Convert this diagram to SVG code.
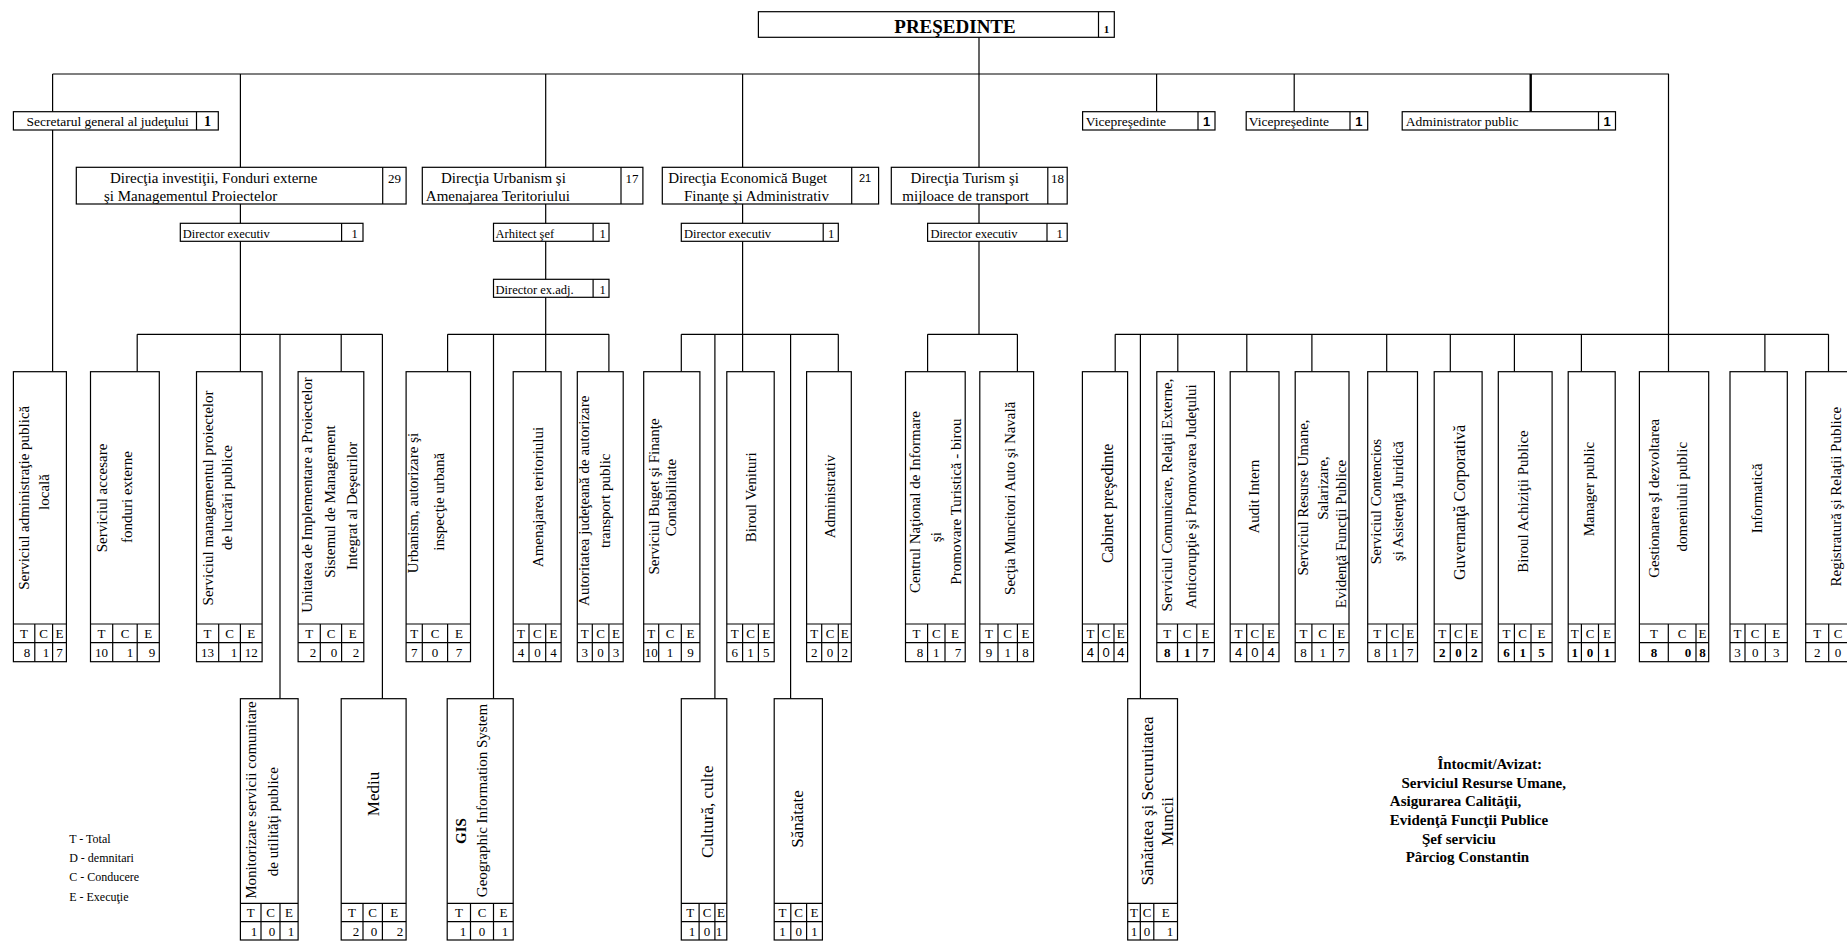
<svg xmlns="http://www.w3.org/2000/svg" width="1847" height="941" viewBox="0 0 1847 941" xml:space="preserve">
<style>
.bx{fill:#fff;stroke:#000;stroke-width:1.2}
.ln{stroke:#000;stroke-width:1.2;fill:none}
text{font-family:"Liberation Serif","Times New Roman",serif;fill:#000}
.v{font-size:15px;text-anchor:middle;dominant-baseline:central}
.v16{font-size:16px}
.v17{font-size:17px}
.h{font-size:13px;text-anchor:middle}
.n{font-size:13px;text-anchor:middle}
.bd{font-weight:bold}
.sans{font-family:"Liberation Sans",Arial,sans-serif}
.tt{font-size:15px}
.sm{font-size:12.5px}
.lg{font-size:12px}
.sig{font-size:15px;font-weight:bold}
</style>
<rect width="1847" height="941" fill="#fff"/>
<g id="connectors">
<path class="ln" d="M979 37.3V334.3M52.6 74H1668.9M52.6 74V371.7M240.4 74V371.7M545.7 74V371.7M742.6 74V371.7M1156.6 74V111.7M1294.2 74V111.7M1668.5 74V371.7"/>
<path d="M1530.7 74V111.7" stroke="#000" stroke-width="2.4"/>
<path class="ln" d="M137.2 334.3H382.4M137.2 334.3V371.7M280 334.3V698.7M341.2 334.3V371.7M382.4 334.3V698.7"/>
<path class="ln" d="M447.6 334.3H608.9M447.6 334.3V371.7M493.5 334.3V698.7M608.9 334.3V371.7"/>
<path class="ln" d="M681.3 334.3H838.3M681.3 334.3V371.7M714.9 334.3V698.7M790.6 334.3V698.7M838.3 334.3V371.7"/>
<path class="ln" d="M927.6 334.3H1017.4M927.6 334.3V371.7M1017.4 334.3V371.7"/>
<path class="ln" d="M1115.2 334.3H1828.5M1115.2 334.3V371.7M1140.4 334.3V698.7M1177.8 334.3V371.7M1246.8 334.3V371.7M1311.9 334.3V371.7M1386.7 334.3V371.7M1450.3 334.3V371.7M1514.4 334.3V371.7M1581.4 334.3V371.7M1764.9 334.3V371.7M1828.5 334.3V371.7"/>
</g>
<g id="presedinte">
<rect class="bx" x="758.4" y="11.7" width="355.9" height="25.6"/>
<path class="ln" d="M1098.5 11.7V37.3"/>
<text x="955" y="33" font-size="19" font-weight="bold" text-anchor="middle">PREŞEDINTE</text>
<text x="1106.4" y="33" font-size="11" font-weight="bold" text-anchor="middle">1</text>
</g>
<g id="secretar">
<rect class="bx" x="13.4" y="111.7" width="204.9" height="18.3"/>
<path class="ln" d="M196.5 111.7V130"/>
<text x="26.5" y="125.5" font-size="13.5">Secretarul general al judeţului</text>
<text x="207.4" y="125.5" font-size="14" font-weight="bold" text-anchor="middle">1</text>
</g>
<g id="vice1">
<rect class="bx" x="1082.6" y="111.7" width="132.4" height="18.3"/>
<path class="ln" d="M1198 111.7V130"/>
<text x="1085.8" y="125.5" font-size="13.5">Vicepreşedinte</text>
<text class="sans" x="1206.5" y="125.5" font-size="13" font-weight="bold" text-anchor="middle">1</text>
</g>
<g id="vice2">
<rect class="bx" x="1246.2" y="111.7" width="121.5" height="18.3"/>
<path class="ln" d="M1350 111.7V130"/>
<text x="1248.8" y="125.5" font-size="13.5">Vicepreşedinte</text>
<text class="sans" x="1358.9" y="125.5" font-size="13" font-weight="bold" text-anchor="middle">1</text>
</g>
<g id="admin">
<rect class="bx" x="1402.2" y="111.7" width="213.3" height="18.3"/>
<path class="ln" d="M1598.5 111.7V130"/>
<text x="1405.7" y="125.5" font-size="13.5">Administrator public</text>
<text class="sans" x="1607" y="125.5" font-size="13" font-weight="bold" text-anchor="middle">1</text>
</g>
<g id="dir-investitii">
<rect class="bx" x="76.3" y="167.3" width="329.8" height="36.7"/>
<path class="ln" d="M382.7 167.3V204"/>
<text class="tt" x="110" y="182.5">Direcţia investiţii, Fonduri externe</text>
<text class="tt" x="104" y="200.5">şi  Managementul Proiectelor</text>
<text x="394.4" y="182.5" font-size="13" text-anchor="middle">29</text>
</g>
<g id="dir-urbanism">
<rect class="bx" x="422.3" y="167.3" width="220.6" height="36.7"/>
<path class="ln" d="M621 167.3V204"/>
<text class="tt" x="440.9" y="182.5">Direcţia Urbanism şi</text>
<text class="tt" x="425.8" y="200.5">Amenajarea Teritoriului</text>
<text x="632" y="182.5" font-size="13" text-anchor="middle">17</text>
</g>
<g id="dir-economica">
<rect class="bx" x="662.3" y="167.3" width="216.3" height="36.7"/>
<path class="ln" d="M851.7 167.3V204"/>
<text class="tt" x="668.2" y="182.5">Direcţia Economică  Buget</text>
<text class="tt" x="684" y="200.5">Finanţe şi  Administrativ</text>
<text class="sans" x="865.1" y="182" font-size="11" text-anchor="middle">21</text>
</g>
<g id="dir-turism">
<rect class="bx" x="891.3" y="167.3" width="175.9" height="36.7"/>
<path class="ln" d="M1047.8 167.3V204"/>
<text class="tt" x="910.6" y="182.5">Direcţia Turism şi</text>
<text class="tt" x="902.3" y="200.5">mijloace de  transport</text>
<text x="1057.5" y="182.5" font-size="13" text-anchor="middle">18</text>
</g>
<g id="dirx-investitii">
<rect class="bx" x="180.3" y="223.3" width="182.7" height="18"/>
<path class="ln" d="M341.6 223.3V241.3"/>
<text class="sm" x="182.7" y="237.5">Director executiv</text>
<text class="sm" x="354.5" y="237.5" text-anchor="middle">1</text>
</g>
<g id="arhitect">
<rect class="bx" x="493.5" y="223.3" width="115.5" height="18"/>
<path class="ln" d="M593.1 223.3V241.3"/>
<text class="sm" x="495.5" y="237.5">Arhitect şef</text>
<text class="sm" x="602.5" y="237.5" text-anchor="middle">1</text>
</g>
<g id="director-adj">
<rect class="bx" x="493.5" y="279.3" width="115.5" height="18"/>
<path class="ln" d="M593.1 279.3V297.3"/>
<text class="sm" x="495.5" y="293.5">Director ex.adj.</text>
<text class="sm" x="602.5" y="293.5" text-anchor="middle">1</text>
</g>
<g id="dirx-economica">
<rect class="bx" x="681.3" y="223.3" width="157" height="18"/>
<path class="ln" d="M823.2 223.3V241.3"/>
<text class="sm" x="684" y="237.5">Director executiv</text>
<text class="sm" x="831" y="237.5" text-anchor="middle">1</text>
</g>
<g id="dirx-turism">
<rect class="bx" x="927.6" y="223.3" width="139.6" height="18"/>
<path class="ln" d="M1047 223.3V241.3"/>
<text class="sm" x="930.4" y="237.5">Director executiv</text>
<text class="sm" x="1059.5" y="237.5" text-anchor="middle">1</text>
</g>
<g id="s1">
<rect class="bx" x="13.4" y="371.7" width="53" height="290"/>
<path class="ln" d="M13.4 624H66.4M13.4 642.7H66.4M34.8 624V661.7M52.6 624V661.7"/>
<text class="v" transform="translate(24 497.8) rotate(-90)">Serviciul administraţie publică</text>
<text class="v" transform="translate(43.5 492) rotate(-90)">locală</text>
<text class="h" x="24.1" y="638">T</text><text class="h" x="43.7" y="638">C</text><text class="h" x="59.5" y="638">E</text>
<text class="n" x="27" y="657">8</text><text class="n" x="46" y="657">1</text><text class="n" x="59.5" y="657">7</text>
</g>
<g id="s2">
<rect class="bx" x="90.5" y="371.7" width="68.8" height="290"/>
<path class="ln" d="M90.5 624H159.3M90.5 642.7H159.3M112.7 624V661.7M137.2 624V661.7"/>
<text class="v" transform="translate(102 498) rotate(-90)">Serviciul accesare</text>
<text class="v" transform="translate(127.3 497) rotate(-90)">fonduri externe</text>
<text class="h" x="101.6" y="638">T</text><text class="h" x="125" y="638">C</text><text class="h" x="148.3" y="638">E</text>
<text class="n" x="101.6" y="657">10</text><text class="n" x="130" y="657">1</text><text class="n" x="152" y="657">9</text>
</g>
<g id="s3">
<rect class="bx" x="196.5" y="371.7" width="65.6" height="290"/>
<path class="ln" d="M196.5 624H262.1M196.5 642.7H262.1M218.7 624V661.7M240.4 624V661.7"/>
<text class="v" transform="translate(207.6 498) rotate(-90)">Serviciul managementul proiectelor</text>
<text class="v" transform="translate(227.4 497.5) rotate(-90)">de lucrări publice</text>
<text class="h" x="207.6" y="638">T</text><text class="h" x="229.6" y="638">C</text><text class="h" x="251.3" y="638">E</text>
<text class="n" x="207.6" y="657">13</text><text class="n" x="234" y="657">1</text><text class="n" x="251.3" y="657">12</text>
</g>
<g id="s4">
<rect class="bx" x="298.1" y="371.7" width="65.7" height="290"/>
<path class="ln" d="M298.1 624H363.8M298.1 642.7H363.8M320.3 624V661.7M341.6 624V661.7"/>
<text class="v" transform="translate(307.2 495) rotate(-90)">Unitatea de Implementare a Proiectelor</text>
<text class="v" transform="translate(330.2 501.5) rotate(-90)">Sistemul de Management</text>
<text class="v" transform="translate(351.9 505.8) rotate(-90)">Integrat al Deşeurilor</text>
<text class="h" x="309.2" y="638">T</text><text class="h" x="331" y="638">C</text><text class="h" x="352.7" y="638">E</text>
<text class="n" x="313" y="657">2</text><text class="n" x="334" y="657">0</text><text class="n" x="356" y="657">2</text>
</g>
<g id="s5">
<rect class="bx" x="406.1" y="371.7" width="64.4" height="290"/>
<path class="ln" d="M406.1 624H470.5M406.1 642.7H470.5M422.3 624V661.7M447.6 624V661.7"/>
<text class="v" transform="translate(413.2 503) rotate(-90)">Urbanism, autorizare şi</text>
<text class="v" transform="translate(438.9 501.7) rotate(-90)">inspecţie urbană</text>
<text class="h" x="414.2" y="638">T</text><text class="h" x="435" y="638">C</text><text class="h" x="459.1" y="638">E</text>
<text class="n" x="414.2" y="657">7</text><text class="n" x="435" y="657">0</text><text class="n" x="459.1" y="657">7</text>
</g>
<g id="s6">
<rect class="bx" x="513.2" y="371.7" width="47.9" height="290"/>
<path class="ln" d="M513.2 624H561.1M513.2 642.7H561.1M529 624V661.7M545.7 624V661.7"/>
<text class="v" transform="translate(537.7 497) rotate(-90)">Amenajarea teritoriului</text>
<text class="h" x="521.1" y="638">T</text><text class="h" x="537.4" y="638">C</text><text class="h" x="553.4" y="638">E</text>
<text class="n" x="521.1" y="657">4</text><text class="n" x="537.4" y="657">0</text><text class="n" x="553.4" y="657">4</text>
</g>
<g id="s7">
<rect class="bx" x="577.3" y="371.7" width="45.9" height="290"/>
<path class="ln" d="M577.3 624H623.2M577.3 642.7H623.2M592.3 624V661.7M608.9 624V661.7"/>
<text class="v" transform="translate(584.4 500.8) rotate(-90)">Autoritatea judeţeană de autorizare</text>
<text class="v" transform="translate(605 500.8) rotate(-90)">transport public</text>
<text class="h" x="584.8" y="638">T</text><text class="h" x="600.6" y="638">C</text><text class="h" x="616.1" y="638">E</text>
<text class="n" x="584.8" y="657">3</text><text class="n" x="600.6" y="657">0</text><text class="n" x="616.1" y="657">3</text>
</g>
<g id="s8">
<rect class="bx" x="643.7" y="371.7" width="56.2" height="290"/>
<path class="ln" d="M643.7 624H699.9M643.7 642.7H699.9M658.7 624V661.7M681.3 624V661.7"/>
<text class="v" transform="translate(653.6 496.5) rotate(-90)">Serviciul Buget şi Finanţe</text>
<text class="v" transform="translate(671.4 497.5) rotate(-90)">Contabilitate</text>
<text class="h" x="651.2" y="638">T</text><text class="h" x="670" y="638">C</text><text class="h" x="690.6" y="638">E</text>
<text class="n" x="651.2" y="657">10</text><text class="n" x="670" y="657">1</text><text class="n" x="690.6" y="657">9</text>
</g>
<g id="s9">
<rect class="bx" x="726.8" y="371.7" width="47.4" height="290"/>
<path class="ln" d="M726.8 624H774.2M726.8 642.7H774.2M742.6 624V661.7M758.4 624V661.7"/>
<text class="v" transform="translate(750.5 497.3) rotate(-90)">Biroul  Venituri</text>
<text class="h" x="734.7" y="638">T</text><text class="h" x="750.5" y="638">C</text><text class="h" x="766.3" y="638">E</text>
<text class="n" x="734.7" y="657">6</text><text class="n" x="750.5" y="657">1</text><text class="n" x="766.3" y="657">5</text>
</g>
<g id="s10">
<rect class="bx" x="806.6" y="371.7" width="44.7" height="290"/>
<path class="ln" d="M806.6 624H851.3M806.6 642.7H851.3M821.7 624V661.7M838.3 624V661.7"/>
<text class="v" transform="translate(829.6 496.5) rotate(-90)">Administrativ</text>
<text class="h" x="814.2" y="638">T</text><text class="h" x="830" y="638">C</text><text class="h" x="844.8" y="638">E</text>
<text class="n" x="814.2" y="657">2</text><text class="n" x="830" y="657">0</text><text class="n" x="844.8" y="657">2</text>
</g>
<g id="s11">
<rect class="bx" x="905.5" y="371.7" width="59.7" height="290"/>
<path class="ln" d="M905.5 624H965.2M905.5 642.7H965.2M927.6 624V661.7M945 624V661.7"/>
<text class="v" transform="translate(914.6 502) rotate(-90)">Centrul Naţional de Informare</text>
<text class="v" transform="translate(936.3 537) rotate(-90)">şi</text>
<text class="v" transform="translate(956.1 501.5) rotate(-90)">Promovare Turistică - birou</text>
<text class="h" x="916.6" y="638">T</text><text class="h" x="936.3" y="638">C</text><text class="h" x="955.1" y="638">E</text>
<text class="n" x="920" y="657">8</text><text class="n" x="936.3" y="657">1</text><text class="n" x="958" y="657">7</text>
</g>
<g id="s12">
<rect class="bx" x="979.8" y="371.7" width="53.8" height="290"/>
<path class="ln" d="M979.8 624H1033.6M979.8 642.7H1033.6M998 624V661.7M1017.4 624V661.7"/>
<text class="v" transform="translate(1009.5 498.3) rotate(-90)">Secţia Muncitori Auto şi Navală</text>
<text class="h" x="988.9" y="638">T</text><text class="h" x="1007.7" y="638">C</text><text class="h" x="1025.5" y="638">E</text>
<text class="n" x="988.9" y="657">9</text><text class="n" x="1007.7" y="657">1</text><text class="n" x="1025.5" y="657">8</text>
</g>
<g id="s13">
<rect class="bx" x="1082.4" y="371.7" width="45.2" height="290"/>
<path class="ln" d="M1082.4 624H1127.6M1082.4 642.7H1127.6M1098.3 624V661.7M1114 624V661.7"/>
<text class="v v16" transform="translate(1107 503.3) rotate(-90)">Cabinet preşedinte</text>
<text class="h" x="1090.4" y="638">T</text><text class="h" x="1106.2" y="638">C</text><text class="h" x="1120.8" y="638">E</text>
<text class="n sans" x="1090.4" y="657">4</text><text class="n sans" x="1106.2" y="657">0</text><text class="n sans" x="1120.8" y="657">4</text>
</g>
<g id="s14">
<rect class="bx" x="1156.8" y="371.7" width="57.6" height="290"/>
<path class="ln" d="M1156.8 624H1214.4M1156.8 642.7H1214.4M1177.5 624V661.7M1196.8 624V661.7"/>
<text class="v" transform="translate(1167.4 495) rotate(-90)">Serviciul Comunicare, Relaţii  Externe,</text>
<text class="v" transform="translate(1190.5 496.5) rotate(-90)">Anticorupţie şi Promovarea Judeţului</text>
<text class="h" x="1167.2" y="638">T</text><text class="h" x="1187.2" y="638">C</text><text class="h" x="1205.6" y="638">E</text>
<text class="n bd" x="1167.2" y="657">8</text><text class="n bd" x="1187.2" y="657">1</text><text class="n bd" x="1205.6" y="657">7</text>
</g>
<g id="s15">
<rect class="bx" x="1230.2" y="371.7" width="48.8" height="290"/>
<path class="ln" d="M1230.2 624H1279M1230.2 642.7H1279M1246.7 624V661.7M1263 624V661.7"/>
<text class="v" transform="translate(1253.7 496.7) rotate(-90)">Audit Intern</text>
<text class="h" x="1238.5" y="638">T</text><text class="h" x="1254.9" y="638">C</text><text class="h" x="1271" y="638">E</text>
<text class="n sans" x="1238.5" y="657">4</text><text class="n sans" x="1254.9" y="657">0</text><text class="n sans" x="1271" y="657">4</text>
</g>
<g id="s16">
<rect class="bx" x="1295.2" y="371.7" width="53.8" height="290"/>
<path class="ln" d="M1295.2 624H1349M1295.2 642.7H1349M1311.9 624V661.7M1333.4 624V661.7"/>
<text class="v" transform="translate(1303 497.5) rotate(-90)">Serviciul Resurse Umane,</text>
<text class="v" transform="translate(1323 488) rotate(-90)">Salarizare,</text>
<text class="v" transform="translate(1340.5 534) rotate(-90)">Evidenţă  Funcţii Publice</text>
<text class="h" x="1303.6" y="638">T</text><text class="h" x="1322.7" y="638">C</text><text class="h" x="1341.2" y="638">E</text>
<text class="n" x="1303.6" y="657">8</text><text class="n" x="1322.7" y="657">1</text><text class="n" x="1341.2" y="657">7</text>
</g>
<g id="s17">
<rect class="bx" x="1367.7" y="371.7" width="49.8" height="290"/>
<path class="ln" d="M1367.7 624H1417.5M1367.7 642.7H1417.5M1386.7 624V661.7M1402.9 624V661.7"/>
<text class="v" transform="translate(1376 501.5) rotate(-90)">Serviciul Contencios</text>
<text class="v" transform="translate(1398 501) rotate(-90)">şi Asistenţă Juridică</text>
<text class="h" x="1377.2" y="638">T</text><text class="h" x="1394.8" y="638">C</text><text class="h" x="1410.2" y="638">E</text>
<text class="n" x="1377.2" y="657">8</text><text class="n" x="1394.8" y="657">1</text><text class="n" x="1410.2" y="657">7</text>
</g>
<g id="s18">
<rect class="bx" x="1434.2" y="371.7" width="47.9" height="290"/>
<path class="ln" d="M1434.2 624H1482.1M1434.2 642.7H1482.1M1450.3 624V661.7M1466.5 624V661.7"/>
<text class="v v16" transform="translate(1459.1 502.5) rotate(-90)">Guvernanţă Corporativă</text>
<text class="h" x="1442.3" y="638">T</text><text class="h" x="1458.4" y="638">C</text><text class="h" x="1474.3" y="638">E</text>
<text class="n bd" x="1442.3" y="657">2</text><text class="n bd" x="1458.4" y="657">0</text><text class="n bd" x="1474.3" y="657">2</text>
</g>
<g id="s19">
<rect class="bx" x="1498.3" y="371.7" width="53.8" height="290"/>
<path class="ln" d="M1498.3 624H1552.1M1498.3 642.7H1552.1M1514.4 624V661.7M1531 624V661.7"/>
<text class="v" transform="translate(1522.7 501.5) rotate(-90)">Biroul Achiziţii Publice</text>
<text class="h" x="1506.4" y="638">T</text><text class="h" x="1522.7" y="638">C</text><text class="h" x="1541.6" y="638">E</text>
<text class="n bd" x="1506.4" y="657">6</text><text class="n bd" x="1522.7" y="657">1</text><text class="n bd" x="1541.6" y="657">5</text>
</g>
<g id="s20">
<rect class="bx" x="1568.2" y="371.7" width="47" height="290"/>
<path class="ln" d="M1568.2 624H1615.2M1568.2 642.7H1615.2M1581.4 624V661.7M1598.5 624V661.7"/>
<text class="v" transform="translate(1588.8 489) rotate(-90)">Manager public</text>
<text class="h" x="1574.8" y="638">T</text><text class="h" x="1590" y="638">C</text><text class="h" x="1606.9" y="638">E</text>
<text class="n bd" x="1574.8" y="657">1</text><text class="n bd" x="1590" y="657">0</text><text class="n bd" x="1606.9" y="657">1</text>
</g>
<g id="s21">
<rect class="bx" x="1639.4" y="371.7" width="69.3" height="290"/>
<path class="ln" d="M1639.4 624H1708.7M1639.4 642.7H1708.7M1668.3 624V661.7M1696 624V661.7"/>
<text class="v" transform="translate(1653.5 498.3) rotate(-90)">Gestionarea şI dezvoltarea</text>
<text class="v" transform="translate(1682 496.7) rotate(-90)">domeniului public</text>
<text class="h" x="1653.9" y="638">T</text><text class="h" x="1682.2" y="638">C</text><text class="h" x="1702.4" y="638">E</text>
<text class="n bd" x="1653.9" y="657">8</text><text class="n bd" x="1688" y="657">0</text><text class="n bd" x="1702.4" y="657">8</text>
</g>
<g id="s22">
<rect class="bx" x="1730" y="371.7" width="57.3" height="290"/>
<path class="ln" d="M1730 624H1787.3M1730 642.7H1787.3M1745 624V661.7M1765.3 624V661.7"/>
<text class="v" transform="translate(1756.7 498.3) rotate(-90)">Informatică</text>
<text class="h" x="1737.5" y="638">T</text><text class="h" x="1755.2" y="638">C</text><text class="h" x="1776.3" y="638">E</text>
<text class="n" x="1737.5" y="657">3</text><text class="n" x="1755.2" y="657">0</text><text class="n" x="1776.3" y="657">3</text>
</g>
<g id="s23">
<rect class="bx" x="1805.7" y="371.7" width="60" height="290"/>
<path class="ln" d="M1805.7 624H1865.7M1805.7 642.7H1865.7M1828.7 624V661.7"/>
<text class="v" transform="translate(1836 496.7) rotate(-90)">Registratură şi Relaţii Publice</text>
<text class="h" x="1817.2" y="638">T</text><text class="h" x="1838" y="638">C</text>
<text class="n" x="1817.2" y="657">2</text><text class="n" x="1838" y="657">0</text>
</g>
<g id="b1">
<rect class="bx" x="240.4" y="698.7" width="57.7" height="241.3"/>
<path class="ln" d="M240.4 903.3H298.1M240.4 921.7H298.1M261 903.3V940M280 903.3V940"/>
<text class="v" transform="translate(251.1 800) rotate(-90)">Monitorizare servicii comunitare</text>
<text class="v" transform="translate(272.8 821.7) rotate(-90)">de utilităţi publice</text>
<text class="h" x="250.7" y="917.3">T</text><text class="h" x="270.5" y="917.3">C</text><text class="h" x="289.1" y="917.3">E</text>
<text class="n" x="254" y="935.5">1</text><text class="n" x="272" y="935.5">0</text><text class="n" x="291" y="935.5">1</text>
</g>
<g id="b2">
<rect class="bx" x="341.2" y="698.7" width="64.9" height="241.3"/>
<path class="ln" d="M341.2 903.3H406.1M341.2 921.7H406.1M363 903.3V940M382.4 903.3V940"/>
<text class="v v17" transform="translate(373.7 794) rotate(-90)">Mediu</text>
<text class="h" x="352.1" y="917.3">T</text><text class="h" x="372.7" y="917.3">C</text><text class="h" x="394.3" y="917.3">E</text>
<text class="n" x="356" y="935.5">2</text><text class="n" x="374" y="935.5">0</text><text class="n" x="400" y="935.5">2</text>
</g>
<g id="b3">
<rect class="bx" x="447.2" y="698.7" width="66" height="241.3"/>
<path class="ln" d="M447.2 903.3H513.2M447.2 921.7H513.2M470.5 903.3V940M493.5 903.3V940"/>
<text class="v bd" font-size="14" transform="translate(460.6 831) rotate(-90)">GIS</text>
<text class="v" transform="translate(482.4 800.5) rotate(-90)">Geographic Information System</text>
<text class="h" x="458.9" y="917.3">T</text><text class="h" x="482" y="917.3">C</text><text class="h" x="503.4" y="917.3">E</text>
<text class="n" x="463" y="935.5">1</text><text class="n" x="482" y="935.5">0</text><text class="n" x="505" y="935.5">1</text>
</g>
<g id="b4">
<rect class="bx" x="681.3" y="698.7" width="45.5" height="241.3"/>
<path class="ln" d="M681.3 903.3H726.8M681.3 921.7H726.8M699.1 903.3V940M714.9 903.3V940"/>
<text class="v v17" transform="translate(707.8 811.7) rotate(-90)">Cultură, culte</text>
<text class="h" x="690.2" y="917.3">T</text><text class="h" x="707" y="917.3">C</text><text class="h" x="720.9" y="917.3">E</text>
<text class="n" x="692" y="935.5">1</text><text class="n" x="707" y="935.5">0</text><text class="n" x="719" y="935.5">1</text>
</g>
<g id="b5">
<rect class="bx" x="774.2" y="698.7" width="48.2" height="241.3"/>
<path class="ln" d="M774.2 903.3H822.4M774.2 921.7H822.4M790.8 903.3V940M806.6 903.3V940"/>
<text class="v v17" transform="translate(797.9 819) rotate(-90)">Sănătate</text>
<text class="h" x="782.5" y="917.3">T</text><text class="h" x="798.7" y="917.3">C</text><text class="h" x="814.5" y="917.3">E</text>
<text class="n" x="782.5" y="935.5">1</text><text class="n" x="798.7" y="935.5">0</text><text class="n" x="814.5" y="935.5">1</text>
</g>
<g id="b6">
<rect class="bx" x="1127.7" y="698.7" width="49.8" height="241.3"/>
<path class="ln" d="M1127.7 903.3H1177.5M1127.7 921.7H1177.5M1140.3 903.3V940M1153.8 903.3V940"/>
<text class="v v17" transform="translate(1147.9 801) rotate(-90)">Sănătatea şi Securuitatea</text>
<text class="v v17" transform="translate(1167.6 821.5) rotate(-90)">Muncii</text>
<text class="h" x="1134" y="917.3">T</text><text class="h" x="1147" y="917.3">C</text><text class="h" x="1165.7" y="917.3">E</text>
<text class="n" x="1134" y="935.5">1</text><text class="n" x="1147" y="935.5">0</text><text class="n" x="1170" y="935.5">1</text>
</g>
<g id="legend">
<text class="lg" x="69.2" y="843">T - Total</text>
<text class="lg" x="69.2" y="862.3">D - demnitari</text>
<text class="lg" x="69.2" y="881.3">C - Conducere</text>
<text class="lg" x="69.2" y="900.5">E - Execuţie</text>
</g>
<g id="semnatura">
<text class="sig" x="1437.4" y="769.3">Întocmit/Avizat:</text>
<text class="sig" x="1401.4" y="787.5">Serviciul Resurse Umane,</text>
<text class="sig" x="1389.8" y="806.3">Asigurarea Calităţii,</text>
<text class="sig" x="1389.8" y="825">Evidenţă Funcţii Publice</text>
<text class="sig" x="1422" y="843.5">Şef serviciu</text>
<text class="sig" x="1405.7" y="862.3">Pârciog Constantin</text>
</g>
</svg>
